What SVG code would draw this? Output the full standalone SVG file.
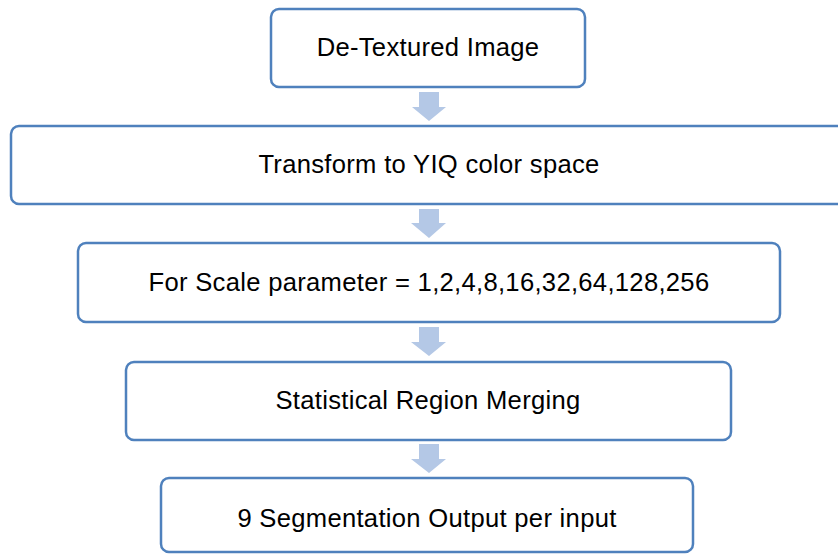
<svg xmlns="http://www.w3.org/2000/svg" width="838" height="554" viewBox="0 0 838 554">
<style>
.box{fill:#fff;stroke:#4F81BD;stroke-width:2.5}
.arr{fill:#B4C8E6}
text{font-family:"Liberation Sans",Arial,sans-serif;font-size:25.6px;letter-spacing:0.3px;fill:#000;text-anchor:middle}
</style>
<rect width="838" height="554" fill="#fff"/>
<g id="connectors">
<polygon class="arr" points="419,92 439,92 439,107 446,107 429,121 412,107 419,107"/>
<polygon class="arr" points="419,209 439,209 439,223 446,223 429,238 411,223 419,223"/>
<polygon class="arr" points="419,327 439,327 439,342 446,342 429,356 411,342 419,342"/>
<polygon class="arr" points="419,444 439,444 439,459 446,459 429,473 411,459 419,459"/>
</g>
<g id="n1"><rect class="box" x="271" y="9" width="314" height="78" rx="8"/><text x="428" y="56">De-Textured Image</text></g>
<g id="n2"><rect class="box" x="11" y="126" width="850" height="78" rx="8"/><text x="429" y="173">Transform to YIQ color space</text></g>
<g id="n3"><rect class="box" x="78" y="243" width="702" height="79" rx="8"/><text x="429" y="291">For Scale parameter = 1,2,4,8,16,32,64,128,256</text></g>
<g id="n4"><rect class="box" x="126" y="362" width="605" height="78" rx="8"/><text x="428" y="409">Statistical Region Merging</text></g>
<g id="n5"><rect class="box" x="161" y="478" width="532" height="74" rx="8"/><text x="427" y="527">9 Segmentation Output per input</text></g>
</svg>
